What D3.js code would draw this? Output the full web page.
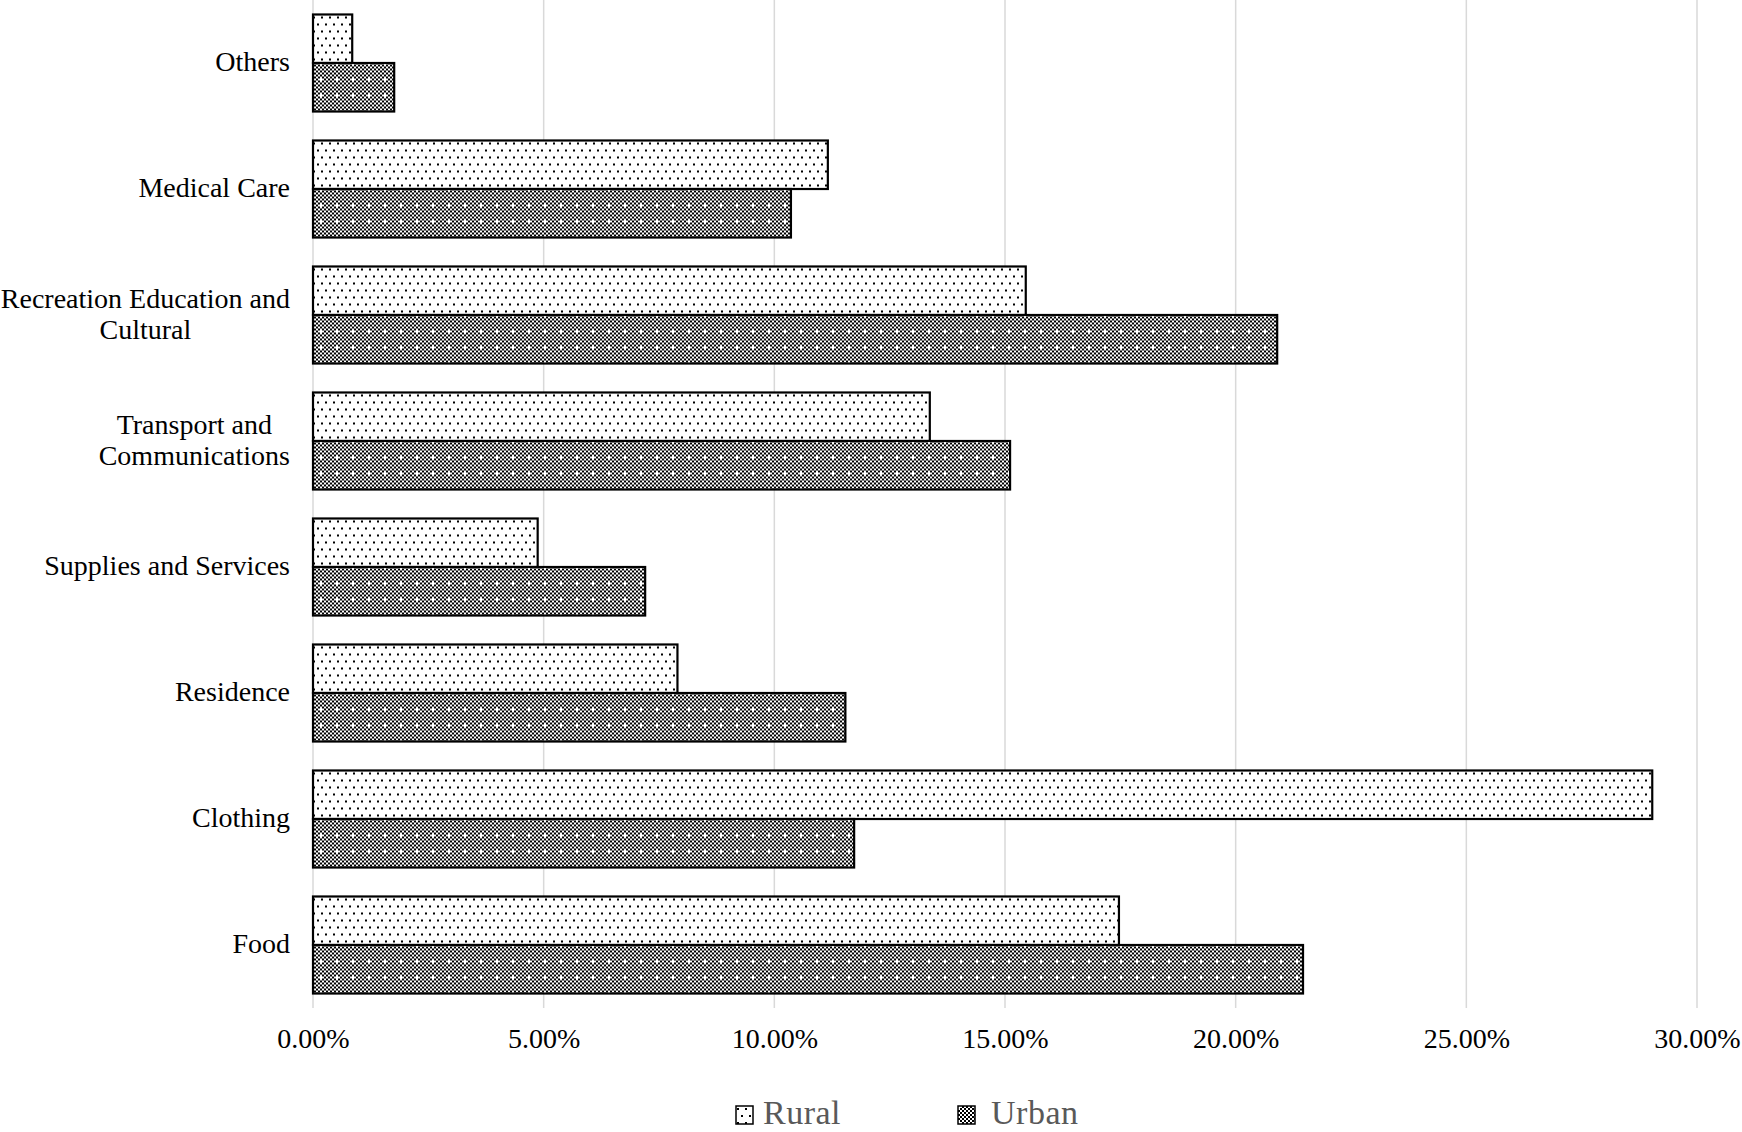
<!DOCTYPE html>
<html>
<head>
<meta charset="utf-8">
<script src="https://cdn.jsdelivr.net/npm/d3@7"></script>
<style>
  body { margin: 0; background: #fff; }
  svg { display: block; font-family: "Liberation Serif", "Times New Roman", serif; }
</style>
</head>
<body>
<svg id="chart" width="1742" height="1132"></svg>
<script>
// categories, top to bottom as drawn
let categories = [
  "Others",
  "Medical Care",
  "Recreation Education and Cultural",
  "Transport and Communications",
  "Supplies and Services",
  "Residence",
  "Clothing",
  "Food"
];
let categoryLines = [
  ["Others"],
  ["Medical Care"],
  ["Recreation Education and", "Cultural"],
  ["Transport and ", "Communications"],
  ["Supplies and Services"],
  ["Residence"],
  ["Clothing"],
  ["Food"]
];
let seriesNames = ["Rural", "Urban"];
let rural = [0.85, 11.16, 15.45, 13.37, 4.87, 7.9, 29.03, 17.47];
let urban = [1.76, 10.36, 20.9, 15.11, 7.2, 11.54, 11.73, 21.46];
let xTicks = [0, 5, 10, 15, 20, 25, 30];

let svg = d3.select("#chart");
let plotLeft = 313, plotRight = 1697, plotTop = 0, plotBottom = 1008;

// fill patterns
let defs = svg.append("defs");
let dots = defs.append("pattern")
  .attr("id", "pat-rural")
  .attr("patternUnits", "userSpaceOnUse")
  .attr("width", 8)
  .attr("height", 14);
dots.append("rect").attr("width", 8).attr("height", 14).attr("fill", "#fff");
dots.append("rect").attr("x", 1).attr("y", 2).attr("width", 2).attr("height", 2).attr("fill", "#000");
dots.append("rect").attr("x", 5).attr("y", 9).attr("width", 2).attr("height", 2).attr("fill", "#000");

let checker = defs.append("pattern")
  .attr("id", "pat-urban")
  .attr("patternUnits", "userSpaceOnUse")
  .attr("width", 16)
  .attr("height", 16);
checker.append("rect").attr("width", 16).attr("height", 16).attr("fill", "#fff");
for (let i = 0; i < 8; i++) {
  for (let j = 0; j < 8; j++) {
    if ((i + j) % 2 === 0 && !(i === 0 && j === 0)) {
      checker.append("rect")
        .attr("x", i * 2).attr("y", j * 2)
        .attr("width", 2).attr("height", 2)
        .attr("fill", "#000");
    }
  }
}

let xScale = d3.scaleLinear().domain([0, 30]).range([plotLeft, plotRight]);
let yScale = d3.scaleBand()
  .domain(categories)
  .range([plotTop, plotBottom])
  .paddingInner(0.23)
  .paddingOuter(0.115);
let sub = d3.scaleBand().domain(seriesNames).range([0, yScale.bandwidth()]);

// gridlines
svg.append("g")
  .selectAll("line")
  .data(xTicks)
  .join("line")
  .attr("x1", d => xScale(d))
  .attr("x2", d => xScale(d))
  .attr("y1", plotTop)
  .attr("y2", plotBottom)
  .attr("stroke", "#d9d9d9")
  .attr("stroke-width", 1.5);

// x axis labels
let xAxis = d3.axisBottom(xScale)
  .tickValues(xTicks)
  .tickSize(0)
  .tickPadding(0)
  .tickFormat(d => d3.format(".2%")(d / 100));
let gx = svg.append("g")
  .attr("transform", `translate(0, ${plotBottom})`)
  .call(xAxis);
gx.select(".domain").remove();
gx.selectAll("text")
  .attr("y", 40)
  .attr("dy", null)
  .attr("font-family", "Liberation Serif")
  .attr("font-size", 28)
  .attr("fill", "#000");

// bars
let rows = categories.map((c, i) => ({ cat: c, Rural: rural[i], Urban: urban[i] }));
let groups = svg.append("g")
  .selectAll("g")
  .data(rows)
  .join("g")
  .attr("transform", d => `translate(0, ${yScale(d.cat)})`);

groups.selectAll("rect")
  .data(d => seriesNames.map(s => ({ s: s, v: d[s] })))
  .join("rect")
  .attr("x", xScale(0))
  .attr("y", d => sub(d.s))
  .attr("width", d => xScale(d.v) - xScale(0))
  .attr("height", sub.bandwidth())
  .attr("fill", d => d.s === "Rural" ? "url(#pat-rural)" : "url(#pat-urban)")
  .attr("stroke", "#000")
  .attr("stroke-width", 2.2);

// category labels, right aligned block with centered lines
let labelRight = 290, lineH = 31;
categories.forEach((c, i) => {
  let lines = categoryLines[i];
  let cy = yScale(c) + yScale.bandwidth() / 2;
  let g = svg.append("g");
  let texts = g.selectAll("text")
    .data(lines)
    .join("text")
    .attr("font-size", 28)
    .attr("fill", "#000")
    .attr("text-anchor", "middle")
    .attr("y", (d, k) => cy + 8 + (k - (lines.length - 1) / 2) * lineH)
    .text(d => d);
  let maxW = d3.max(texts.nodes(), n => n.getComputedTextLength());
  texts.attr("x", labelRight - maxW / 2);
});

// legend
let legendX = [736, 958];
let legendTextX = [27, 33];
let legend = svg.append("g")
  .selectAll("g")
  .data(seriesNames)
  .join("g")
  .attr("transform", (d, i) => `translate(${legendX[i]}, 1106)`);
legend.append("rect")
  .attr("width", 17)
  .attr("height", 18)
  .attr("fill", d => d === "Rural" ? "url(#pat-rural)" : "url(#pat-urban)")
  .attr("stroke", "#000")
  .attr("stroke-width", 1.5);
legend.append("text")
  .attr("x", (d, i) => legendTextX[i])
  .attr("y", 18)
  .attr("font-size", 34)
  .attr("letter-spacing", 0.5)
  .attr("fill", "#595959")
  .text(d => d);
</script>
</body>
</html>
